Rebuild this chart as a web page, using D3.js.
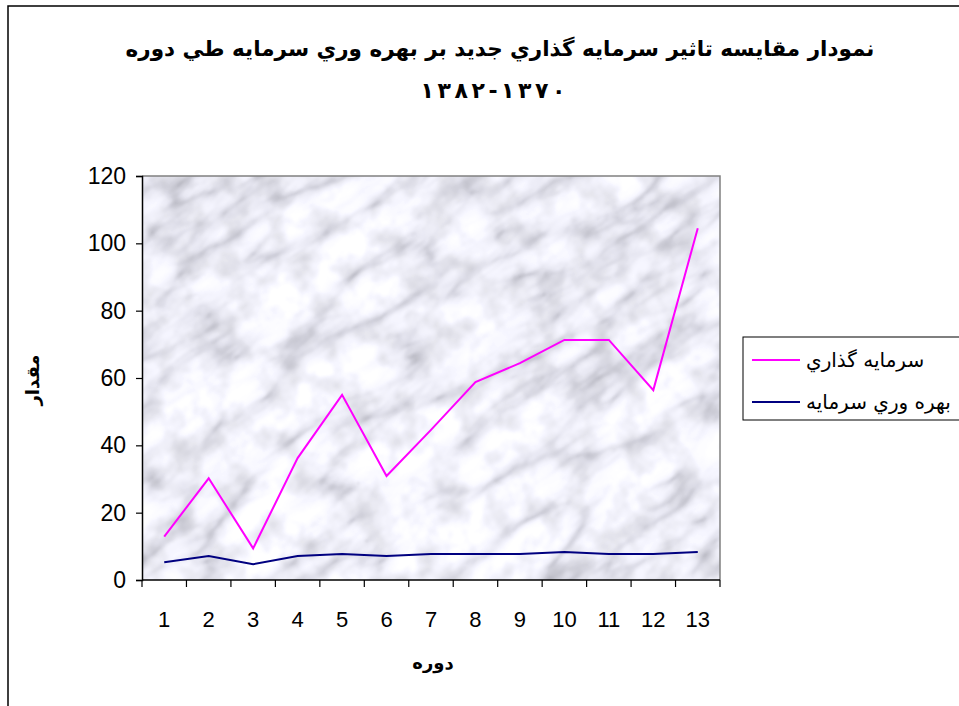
<!DOCTYPE html>
<html>
<head>
<meta charset="utf-8">
<script src="https://cdn.jsdelivr.net/npm/d3@7"></script>
<style>
  html, body { margin: 0; padding: 0; background: #fff; }
  svg { display: block; }
</style>
</head>
<body>
<svg id="chart" width="959" height="706"></svg>
<script>
// Periods 1..13 (years 1370-1382)
const periods = [1, 2, 3, 4, 5, 6, 7, 8, 9, 10, 11, 12, 13];
// New investment
const investment = [12.9, 30.2, 9.4, 36.2, 55.0, 30.9, 44.6, 58.8, 64.4, 71.3, 71.3, 56.4, 104.5];
// Capital productivity
const productivity = [5.3, 7.1, 4.7, 7.1, 7.7, 7.1, 7.7, 7.7, 7.7, 8.3, 7.7, 7.7, 8.3];
const yTicks = [0, 20, 40, 60, 80, 100, 120];
const seriesNames = ["سرمايه گذاري", "بهره وري سرمايه"];
const seriesColors = ["#ff00ff", "#000080"];
const titleLines = ["نمودار مقايسه تاثير سرمايه گذاري جديد بر بهره وري سرمايه طي دوره", "١٣٧٠-١٣٨٢"];
const xTitle = "دوره";
const yTitle = "مقدار";

const svg = d3.select("#chart");
const plot = { left: 142, right: 720, top: 176, bottom: 580 };

const x = d3.scaleBand().domain(periods).range([plot.left, plot.right]);
const y = d3.scaleLinear().domain([0, 120]).range([plot.bottom, plot.top]);

// Marble-like background texture
const defs = svg.append("defs");
const f = defs.append("filter").attr("id", "marble")
  .attr("x", 0).attr("y", 0).attr("width", 1).attr("height", 1)
  .attr("color-interpolation-filters", "sRGB");
f.append("feTurbulence").attr("type", "turbulence")
  .attr("baseFrequency", "0.007 0.02").attr("numOctaves", 4).attr("seed", 11).attr("result", "veins");
f.append("feColorMatrix").attr("in", "veins").attr("type", "matrix")
  .attr("values", "1 0 0 0 0  1 0 0 0 0  1 0 0 0 0  0 0 0 0 1").attr("result", "vg");
const ct = f.append("feComponentTransfer").attr("in", "vg").attr("result", "vc");
ct.append("feFuncR").attr("type", "table").attr("tableValues", "0.74 0.85 0.91 0.935 0.95 0.955 0.96 0.96");
ct.append("feFuncG").attr("type", "table").attr("tableValues", "0.74 0.85 0.91 0.935 0.95 0.955 0.96 0.96");
ct.append("feFuncB").attr("type", "table").attr("tableValues", "0.77 0.88 0.935 0.96 0.975 0.98 0.985 0.985");
f.append("feTurbulence").attr("type", "fractalNoise")
  .attr("baseFrequency", "0.035").attr("numOctaves", 3).attr("seed", 2).attr("result", "grain");
f.append("feColorMatrix").attr("in", "grain").attr("type", "matrix")
  .attr("values", "0.3 0 0 0 0.83  0.3 0 0 0 0.83  0.3 0 0 0 0.83  0 0 0 0 1").attr("result", "gl");
f.append("feBlend").attr("in", "vc").attr("in2", "gl").attr("mode", "multiply").attr("result", "mix");
f.append("feGaussianBlur").attr("in", "mix").attr("stdDeviation", 0.8).attr("result", "soft");
f.append("feComponentTransfer").attr("in", "soft")
  .call(g => {
    g.append("feFuncR").attr("type", "linear").attr("slope", 1.06).attr("intercept", 0.0);
    g.append("feFuncG").attr("type", "linear").attr("slope", 1.06).attr("intercept", 0.0);
    g.append("feFuncB").attr("type", "linear").attr("slope", 1.06).attr("intercept", 0.01);
  });

defs.append("clipPath").attr("id", "plotClip").append("rect")
  .attr("x", plot.left).attr("y", plot.top)
  .attr("width", plot.right - plot.left).attr("height", plot.bottom - plot.top);

const bg = svg.append("g").attr("clip-path", "url(#plotClip)");
const cx = (plot.left + plot.right) / 2, cy = (plot.top + plot.bottom) / 2;
bg.append("g").attr("transform", `rotate(-35 ${cx} ${cy})`)
  .append("rect")
  .attr("x", cx - 450).attr("y", cy - 420).attr("width", 900).attr("height", 840)
  .attr("fill", "#e6e6ea").attr("filter", "url(#marble)");

// Outer chart frame
svg.append("path").attr("d", "M8,706 L8,6 L960,6")
  .attr("fill", "none").attr("stroke", "#000").attr("stroke-width", 1.5);

// Plot frame (top and right)
svg.append("path")
  .attr("d", `M${plot.left},${plot.top} L${plot.right},${plot.top} L${plot.right},${plot.bottom}`)
  .attr("fill", "none").attr("stroke", "#808080").attr("stroke-width", 1.5);

// Y axis
const yAxis = svg.append("g").attr("transform", `translate(${plot.left},0)`)
  .call(d3.axisLeft(y).tickValues(yTicks).tickSize(6).tickPadding(10).tickFormat(d3.format("d")));
yAxis.select(".domain").attr("stroke", "#000").attr("stroke-width", 1.5);
yAxis.selectAll(".tick line").attr("stroke", "#000").attr("stroke-width", 1.2);
yAxis.selectAll("text").attr("font-family", "Liberation Sans, Arial, sans-serif")
  .attr("font-size", 23).attr("fill", "#000");

// X axis: ticks at category boundaries, labels at category centers
const xAxisG = svg.append("g").attr("transform", `translate(0,${plot.bottom})`);
xAxisG.append("line").attr("x1", plot.left).attr("x2", plot.right)
  .attr("stroke", "#000").attr("stroke-width", 1.5);
const bounds = periods.map(p => x(p)).concat([x(periods[periods.length - 1]) + x.bandwidth()]);
xAxisG.selectAll("line.tick").data(bounds).join("line").attr("class", "tick")
  .attr("x1", d => d).attr("x2", d => d).attr("y1", 0).attr("y2", 7)
  .attr("stroke", "#000").attr("stroke-width", 1.2);
xAxisG.selectAll("text").data(periods).join("text")
  .attr("x", d => x(d) + x.bandwidth() / 2).attr("y", 47)
  .attr("text-anchor", "middle")
  .attr("font-family", "Liberation Sans, Arial, sans-serif").attr("font-size", 22)
  .text(d => d);

// Series lines
const line = d3.line().x((d, i) => x(periods[i]) + x.bandwidth() / 2).y(d => y(d));
[investment, productivity].forEach((s, i) => {
  svg.append("path").datum(s).attr("d", line)
    .attr("fill", "none").attr("stroke", seriesColors[i]).attr("stroke-width", 2)
    .attr("stroke-linejoin", "miter");
});

// Title
const title = svg.append("g").attr("font-family", "DejaVu Sans, sans-serif")
  .attr("font-weight", "bold").attr("text-anchor", "middle").attr("fill", "#000");
title.append("text").attr("x", 500).attr("y", 56).attr("font-size", 21.5)
  .attr("direction", "rtl").text(titleLines[0]);
title.append("text").attr("x", 493).attr("y", 98).attr("font-size", 22)
  .attr("textLength", 145).attr("lengthAdjust", "spacing")
  .attr("direction", "rtl").text(titleLines[1]);

// Axis titles
svg.append("text").attr("x", 433).attr("y", 669).attr("text-anchor", "middle")
  .attr("font-family", "DejaVu Sans, sans-serif").attr("font-weight", "bold")
  .attr("font-size", 18).text(xTitle);
svg.append("text").attr("transform", "translate(33,380) rotate(-90)").attr("text-anchor", "middle")
  .attr("dy", "0.35em")
  .attr("font-family", "DejaVu Sans, sans-serif").attr("font-weight", "bold")
  .attr("font-size", 18).text(yTitle);

// Legend
const legend = svg.append("g");
legend.append("rect").attr("x", 743).attr("y", 337).attr("width", 240).attr("height", 83)
  .attr("fill", "#fff").attr("stroke", "#000").attr("stroke-width", 1);
seriesNames.forEach((n, i) => {
  const ly = 360 + i * 42;
  legend.append("line").attr("x1", 752).attr("x2", 800).attr("y1", ly).attr("y2", ly)
    .attr("stroke", seriesColors[i]).attr("stroke-width", 2);
  legend.append("text").attr("x", 806).attr("y", ly).attr("dy", "0.35em")
    .attr("font-family", "DejaVu Sans, sans-serif").attr("font-size", 20).text(n);
});
</script>
</body>
</html>
